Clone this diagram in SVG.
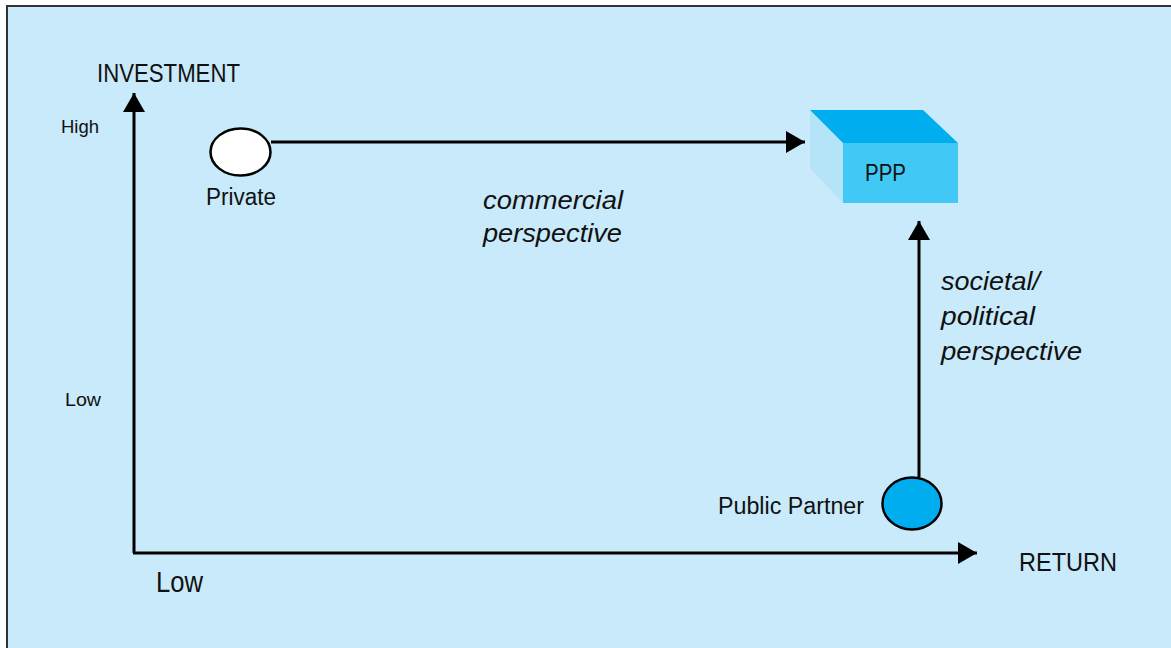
<svg xmlns="http://www.w3.org/2000/svg" width="1171" height="648" viewBox="0 0 1171 648">
<defs>
<style>
.t{font-family:"Liberation Sans",Arial,sans-serif;fill:#111;}
.i{font-style:italic;}
.ln{stroke:#000;stroke-width:3;fill:none;}
.node{stroke:#000;stroke-width:2.5;}
</style>
<marker id="ah" markerWidth="20" markerHeight="22" refX="19" refY="11" orient="auto" markerUnits="userSpaceOnUse">
<path d="M0,0 L19,11 L0,22 Z" fill="#000"/>
</marker>
</defs>
<rect x="0" y="0" width="1171" height="648" fill="#ffffff"/>
<rect x="7" y="6" width="1170" height="650" fill="#C8EAFA" stroke="#333" stroke-width="2"/>
<g id="connectors">
<line class="ln" x1="134" y1="553" x2="134" y2="93" marker-end="url(#ah)"/>
<line class="ln" x1="133" y1="553" x2="977" y2="553" marker-end="url(#ah)"/>
<line class="ln" x1="271" y1="142" x2="805" y2="142" marker-end="url(#ah)"/>
<line class="ln" x1="919" y1="477" x2="919" y2="221" marker-end="url(#ah)"/>
</g>
<g id="axis-labels">
<text class="t" x="97" y="82" font-size="25" textLength="143" lengthAdjust="spacingAndGlyphs">INVESTMENT</text>
<text class="t" x="61" y="133" font-size="18" textLength="38" lengthAdjust="spacingAndGlyphs">High</text>
<text class="t" x="65" y="406" font-size="19" textLength="36" lengthAdjust="spacingAndGlyphs">Low</text>
<text class="t" x="156" y="592" font-size="29" textLength="47" lengthAdjust="spacingAndGlyphs">Low</text>
<text class="t" x="1019" y="571" font-size="26" textLength="98" lengthAdjust="spacingAndGlyphs">RETURN</text>
</g>
<g id="private">
<ellipse class="node" cx="240.5" cy="152" rx="30" ry="23.5" fill="#ffffff"/>
<text class="t" x="206" y="205" font-size="23" textLength="70" lengthAdjust="spacingAndGlyphs">Private</text>
</g>
<g id="public-partner">
<ellipse class="node" cx="912" cy="503.5" rx="29.5" ry="26" fill="#00AEEF"/>
<text class="t" x="718" y="514" font-size="23" textLength="146" lengthAdjust="spacingAndGlyphs">Public Partner</text>
</g>
<g id="ppp">
<polygon points="810,110 843,143 843,203 810,168" fill="#B5E4F8"/>
<polygon points="810,110 923,110 958,143 843,143" fill="#00AEEF"/>
<rect x="843" y="143" width="115" height="60" fill="#42C8F5"/>
<text class="t" x="865" y="181" font-size="24" textLength="41" lengthAdjust="spacingAndGlyphs">PPP</text>
</g>
<g id="commercial-label">
<text class="t i" x="483" y="209" font-size="26" textLength="140" lengthAdjust="spacingAndGlyphs">commercial</text>
<text class="t i" x="483" y="242" font-size="26" textLength="139" lengthAdjust="spacingAndGlyphs">perspective</text>
</g>
<g id="societal-label">
<text class="t i" x="941" y="290" font-size="26" textLength="99" lengthAdjust="spacingAndGlyphs">societal/</text>
<text class="t i" x="941" y="325" font-size="26" textLength="94" lengthAdjust="spacingAndGlyphs">political</text>
<text class="t i" x="941" y="360" font-size="26" textLength="141" lengthAdjust="spacingAndGlyphs">perspective</text>
</g>
</svg>
